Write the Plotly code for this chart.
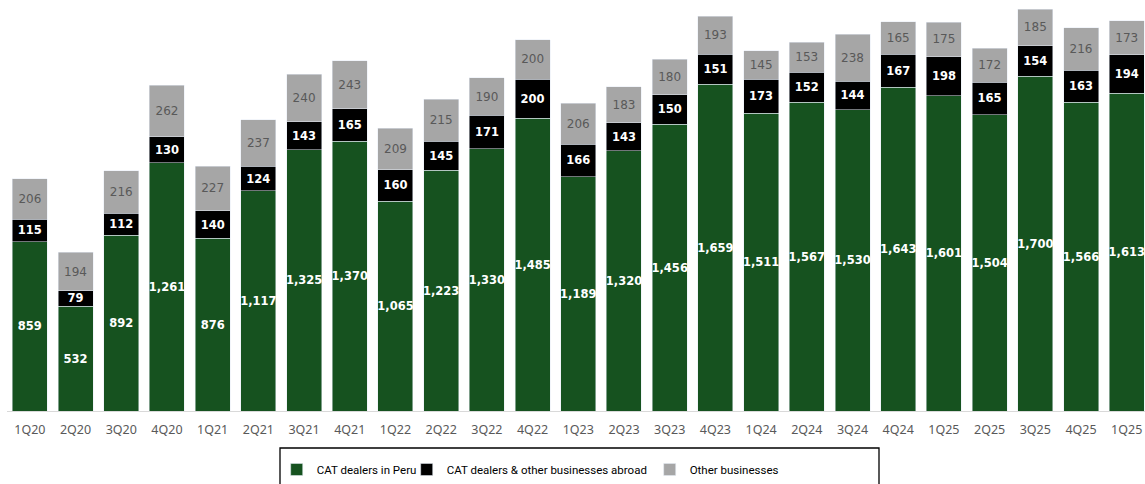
import plotly.graph_objects as go

# Quarterly breakdown of sales by business line
quarters = ["1Q20", "2Q20", "3Q20", "4Q20", "1Q21", "2Q21", "3Q21", "4Q21",
            "1Q22", "2Q22", "3Q22", "4Q22", "1Q23", "2Q23", "3Q23", "4Q23",
            "1Q24", "2Q24", "3Q24", "4Q24", "1Q25", "2Q25", "3Q25", "4Q25", "1Q25"]

cat_peru = [859, 532, 892, 1261, 876, 1117, 1325, 1370, 1065, 1223, 1330, 1485,
            1189, 1320, 1456, 1659, 1511, 1567, 1530, 1643, 1601, 1504, 1700, 1566, 1613]
cat_abroad = [115, 79, 112, 130, 140, 124, 143, 165, 160, 145, 171, 200,
              166, 143, 150, 151, 173, 152, 144, 167, 198, 165, 154, 163, 194]
other_biz = [206, 194, 216, 262, 227, 237, 240, 243, 209, 215, 190, 200,
             206, 183, 180, 193, 145, 153, 238, 165, 175, 172, 185, 216, 173]

series_names = ["CAT dealers in Peru", "CAT dealers & other businesses abroad", "Other businesses"]

GREEN = "#16521F"
BLACK = "#000000"
GREY = "#A6A6A6"
LABEL_GREY = "#595959"

# quarter labels repeat, so bars sit on positional x values
xpos = list(range(len(quarters)))

label_font = "DejaVu Sans, Verdana, sans-serif"

fig = go.Figure()
fig.add_trace(go.Bar(
    x=xpos, y=cat_peru, name=series_names[0], marker_color=GREEN,
    texttemplate="<b>%{y:,}</b>", textposition="inside", insidetextanchor="middle",
    textangle=0, constraintext="none",
    textfont=dict(family=label_font, size=11.5, color="white"),
    legendwidth=85,
))
fig.add_trace(go.Bar(
    x=xpos, y=cat_abroad, name=series_names[1], marker_color=BLACK,
    texttemplate="<b>%{y:,}</b>", textposition="inside", insidetextanchor="middle",
    textangle=0, constraintext="none",
    textfont=dict(family=label_font, size=11.5, color="white"),
    legendwidth=198,
))
fig.add_trace(go.Bar(
    x=xpos, y=other_biz, name=series_names[2], marker_color=GREY,
    texttemplate="%{y:,}", textposition="inside", insidetextanchor="middle",
    textangle=0, constraintext="none",
    textfont=dict(family=label_font, size=12, color=LABEL_GREY),
    legendwidth=110,
))

fig.update_layout(
    barmode="stack",
    bargap=0.234,
    width=1145,
    height=484,
    margin=dict(l=7, r=0, t=0, b=73, autoexpand=False),
    plot_bgcolor="white",
    paper_bgcolor="white",
    showlegend=True,
    legend=dict(
        orientation="h",
        traceorder="normal",
        x=(276.7 - 7) / 1138, xanchor="left",
        y=(411 - 455) / 411, yanchor="top",
        font=dict(family="Roboto, sans-serif", size=11.5, color="#000000"),
        itemclick=False,
        bgcolor="rgba(0,0,0,0)",
    ),
    shapes=[dict(
        type="rect", xref="paper", yref="paper",
        x0=(280 - 7) / 1138, x1=(879 - 7) / 1138,
        y0=(411 - 448) / 411, y1=(411 - 500) / 411,
        line=dict(color="#000000", width=1.3),
        fillcolor="rgba(0,0,0,0)",
    )],
)

fig.update_xaxes(
    tickmode="array", tickvals=xpos, ticktext=quarters,
    range=[-0.5, 24.4],
    showline=True, linecolor="#D9D9D9", linewidth=1,
    showgrid=False, zeroline=False, ticks="",
    ticklabelstandoff=7,
    tickfont=dict(family="Noto Sans, sans-serif", size=12.5, color=LABEL_GREY),
    fixedrange=True,
)
fig.update_yaxes(
    range=[0, 2086], visible=False, showgrid=False, zeroline=False, fixedrange=True,
)

fig.write_html("out.html", config={"displayModeBar": False})
